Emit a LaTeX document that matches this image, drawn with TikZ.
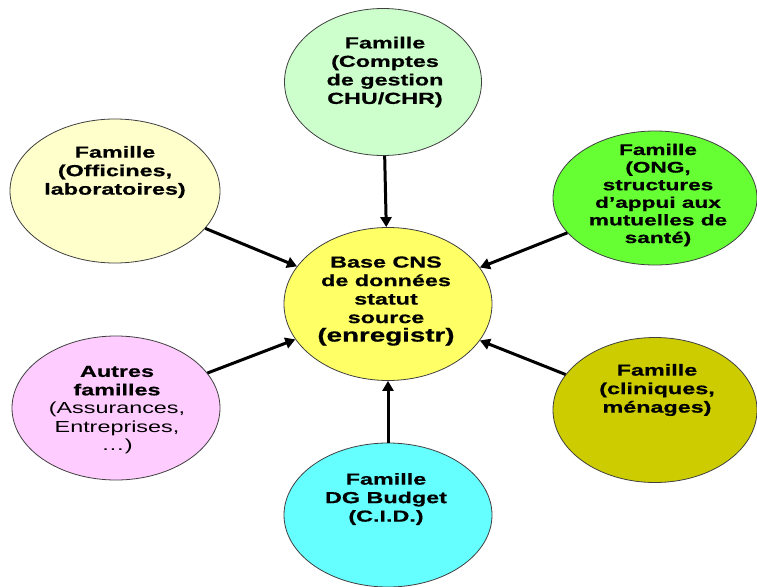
\documentclass[tikz,border=0pt]{standalone}
\usepackage{fontspec}
\setmainfont{Liberation Sans}[FakeStretch=1.46,BoldFeatures={FakeBold=0.6}]
\usetikzlibrary{shapes.geometric,arrows.meta}
\definecolor{cTop}{HTML}{CCFFCC}
\definecolor{cOff}{HTML}{FFFFCC}
\definecolor{cOng}{HTML}{66FF33}
\definecolor{cCns}{HTML}{FFFF66}
\definecolor{cAut}{HTML}{FFCCFF}
\definecolor{cCli}{HTML}{CCCC00}
\definecolor{cDg}{HTML}{66FFFF}
\begin{document}
\begin{tikzpicture}[x=1pt,y=-1pt,
  bub/.style={ellipse, draw=black!75, line width=0.8pt, inner sep=0pt},
  lbl/.style={align=center, font=\fontsize{16}{18.5}\selectfont\bfseries, inner sep=0pt},
  arr/.style={line width=3pt, -{Triangle[length=10pt,width=11pt]}}]
\fill[white] (0,0) rectangle (757,586);
\useasboundingbox (0,0) rectangle (757,586);

\node[bub, fill=cTop, minimum width=197pt, minimum height=147pt] (top) at (383,82) {};
\node[bub, fill=cOff, minimum width=210pt, minimum height=144pt] (off) at (115,191) {};
\node[bub, fill=cOng, minimum width=204pt, minimum height=134pt] (ong) at (655,198) {};
\node[bub, fill=cCns, minimum width=208pt, minimum height=153pt] (cns) at (388,304) {};
\node[bub, fill=cAut, minimum width=208pt, minimum height=144pt] (aut) at (116,408) {};
\node[bub, fill=cCli, minimum width=204pt, minimum height=145pt] (cli) at (655,410) {};
\node[bub, fill=cDg, minimum width=208pt, minimum height=144pt] (dg) at (388,515) {};

\node[lbl] (ttop) at (385,72) {Famille\\(Comptes\\de gestion\\CHU/CHR)};
\node[lbl] (toff) at (115,172) {Famille\\(Officines,\\laboratoires)};
\node[lbl, font=\fontsize{15.5}{17.6}\selectfont\bfseries] (tong) at (658,195) {Famille\\(ONG,\\structures\\d’appui aux\\mutuelles de\\santé)};
\node[lbl] (tcns) at (386,301) {Base CNS\\de données\\statut\\source\\{\fontsize{19}{20}\selectfont(enregistr)}};
\node[lbl] (taut) at (117,410) {Autres\\familles\\{\mdseries(Assurances,}\\{\mdseries Entreprises,}\\{\mdseries …)}};
\node[lbl] (tcli) at (657,390) {Famille\\(cliniques,\\ménages)};
\node[lbl] (tdg) at (386,499) {Famille\\DG Budget\\(C.I.D.)};

\draw[arr] (top) -- (cns);
\draw[arr] (off) -- (cns);
\draw[arr] (ong) -- (cns);
\draw[arr] (aut) -- (cns);
\draw[arr] (cli) -- (cns);
\draw[arr] (dg) -- (cns);
\end{tikzpicture}
\end{document}
